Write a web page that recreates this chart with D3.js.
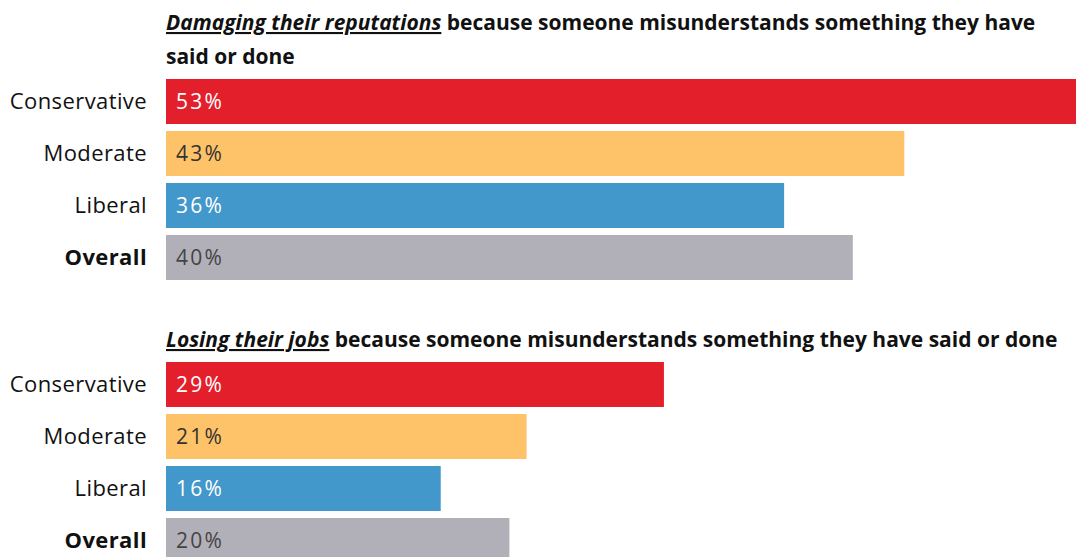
<!DOCTYPE html>
<html>
<head>
<meta charset="utf-8">
<script src="https://cdn.jsdelivr.net/npm/d3@7/dist/d3.min.js"></script>
<style>
  html, body { margin: 0; padding: 0; background: #fff; }
  svg { display: block; }
  .title { font-family: "Open Sans", Arial, sans-serif; font-weight: 700; font-size: 21px; fill: #111; }
  .cat { font-family: "Open Sans", Arial, sans-serif; font-size: 22px; letter-spacing: 0.4px; fill: #111; }
  .val { font-family: "Open Sans", Arial, sans-serif; font-weight: 400; font-size: 21px; letter-spacing: 2.2px; }
</style>
</head>
<body>
<div id="chart"></div>
<script>
const categories = ["Conservative", "Moderate", "Liberal", "Overall"];
const barColors = ["#e31f2c", "#fec368", "#4297cb", "#b1b0b8"];
const valueColors = ["#ffffff", "#333333", "#ffffff", "#444444"];

const reputationValues = [53, 43, 36, 40];
const jobsValues = [29, 21, 16, 20];

const panels = [
  {
    emph: "Damaging their reputations",
    rest: ["because someone misunderstands something they have", "said or done"],
    values: reputationValues
  },
  {
    emph: "Losing their jobs",
    rest: ["because someone misunderstands something they have said or done"],
    values: jobsValues
  }
];

const width = 1076, height = 557;
const svg = d3.select("#chart").append("svg")
  .attr("width", width)
  .attr("height", height);

const x = d3.scaleLinear().domain([0, 53]).range([166, 1076]);

const panelTop = [79, 362];
const titleBase = [[30, 64], [347]];

panels.forEach((p, pi) => {
  const g = svg.append("g");

  const y = d3.scaleBand()
    .domain(categories)
    .range([panelTop[pi], panelTop[pi] + 201])
    .paddingInner(0.135)
    .paddingOuter(0);

  // title
  titleBase[pi].forEach((by, li) => {
    const t = g.append("text").attr("class", "title").attr("x", 166).attr("y", by);
    if (li === 0) {
      t.append("tspan")
        .attr("font-style", "italic")
        .attr("text-decoration", "underline")
        .text(p.emph);
      t.append("tspan").text(" " + p.rest[0]);
    } else {
      t.text(p.rest[li]);
    }
  });

  g.selectAll("rect.bar")
    .data(p.values)
    .enter()
    .append("rect")
    .attr("class", "bar")
    .attr("x", x(0))
    .attr("y", (d, i) => y(categories[i]))
    .attr("width", d => x(d) - x(0))
    .attr("height", y.bandwidth())
    .attr("fill", (d, i) => barColors[i]);

  g.selectAll("text.val")
    .data(p.values)
    .enter()
    .append("text")
    .attr("class", "val")
    .attr("x", x(0) + 10)
    .attr("y", (d, i) => y(categories[i]) + y.bandwidth() / 2)
    .attr("dy", "0.36em")
    .attr("fill", (d, i) => valueColors[i])
    .text(d => d + "%");

  g.selectAll("text.cat")
    .data(categories)
    .enter()
    .append("text")
    .attr("class", "cat")
    .attr("x", 147)
    .attr("y", d => y(d) + y.bandwidth() / 2)
    .attr("dy", "0.36em")
    .attr("text-anchor", "end")
    .attr("font-weight", d => d === "Overall" ? 700 : 400)
    .text(d => d);
});
</script>
</body>
</html>
